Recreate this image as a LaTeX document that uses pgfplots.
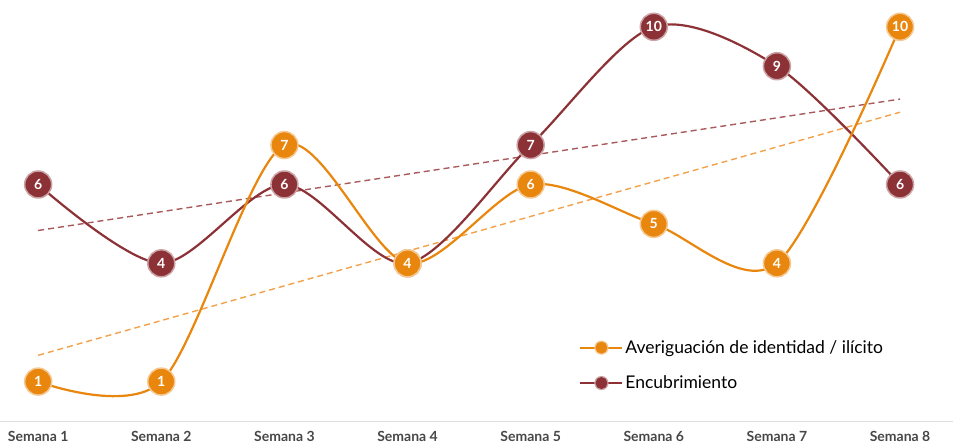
\documentclass[border=0pt]{standalone}
\usepackage{pgfplots}
\usepackage{pgfplotstable}
\pgfplotsset{compat=1.18}
\usepackage{fontspec}
\setmainfont{Lato}
\definecolor{corange}{HTML}{E8860E}
\definecolor{cred}{HTML}{8C3236}
\definecolor{tor}{HTML}{F3A14A}
\definecolor{tred}{HTML}{A85A5C}
\pgfplotstableread{
x a r
1 1 6
2 1 4
3 7 6
4 4 4
5 6 7
6 5 10
7 4 9
8 10 6
}\data
\begin{document}
\begin{tikzpicture}
\begin{axis}[
  scale only axis,
  width=953pt, height=421pt,
  xmin=0.69, xmax=8.43,
  ymin=0, ymax=10.68,
  axis y line=none,
  axis x line*=bottom,
  x axis line style={draw=gray!25, line width=0.8pt},
  xtick={1,...,8},
  xticklabels={Semana 1,Semana 2,Semana 3,Semana 4,Semana 5,Semana 6,Semana 7,Semana 8},
  minor xtick={1.5,2.5,...,7.5},
  major tick length=0pt,
  minor tick length=5pt,
  every minor tick/.style={draw=gray!25, line width=0.8pt},
  xtick style={draw=none},
  xticklabel style={font=\bfseries\fontsize{14}{16}\selectfont, text=black!72, yshift=-7pt},
  clip=false,
  legend style={draw=none, fill=none, at={(axis cs:5.37,2.15)}, anchor=north west,
    font=\fontsize{17.5}{20}\selectfont, row sep=17pt, cells={anchor=west}},
  reverse legend,
]
\addplot[tred, dash pattern=on 6pt off 4pt, line width=1.4pt, forget plot] table[x=x, y={create col/linear regression={y=r}}] {\data};
\addplot[tor, dash pattern=on 6pt off 4pt, line width=1.4pt, forget plot] table[x=x, y={create col/linear regression={y=a}}] {\data};
\addplot[cred, line width=2.2pt, smooth, mark=*, mark size=13.5pt,
  mark options={fill=cred, draw=cred!45, line width=1.5pt},
  legend image code/.code={\draw[cred, line width=2pt] (0pt,0pt) -- (42pt,0pt);
     \fill[cred!45] (21pt,0pt) circle (6pt); \fill[cred] (21pt,0pt) circle (4.8pt);},
  nodes near coords, point meta=explicit symbolic,
  every node near coord/.append style={anchor=center, text=white, font=\bfseries\fontsize{14}{15}\selectfont, yshift=0pt}]
  table[x=x, y=r, meta=r] {\data};
\addlegendentry{Encubrimiento}
\addplot[corange, line width=2.2pt, smooth, mark=*, mark size=13.5pt,
  mark options={fill=corange, draw=corange!45, line width=1.5pt},
  legend image code/.code={\draw[corange, line width=2pt] (0pt,0pt) -- (42pt,0pt);
     \fill[corange!45] (21pt,0pt) circle (6pt); \fill[corange] (21pt,0pt) circle (4.8pt);},
  nodes near coords, point meta=explicit symbolic,
  every node near coord/.append style={anchor=center, text=white, font=\bfseries\fontsize{14}{15}\selectfont, yshift=0pt}]
  table[x=x, y=a, meta=a] {\data};
\addlegendentry{Averiguación de identidad / ilícito}
\end{axis}
\pgfresetboundingbox
\path (current axis.north west) rectangle ([yshift=-24pt]current axis.south east);
\end{tikzpicture}
\end{document}
